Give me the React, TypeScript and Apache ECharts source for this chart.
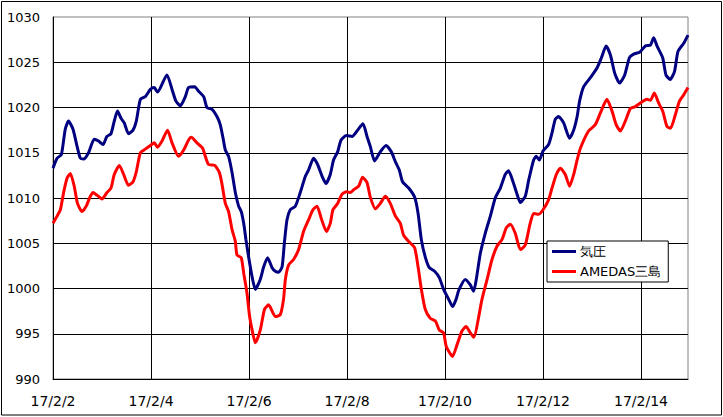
import React, { useEffect, useRef } from "react";
import * as echarts from "echarts";

// hours from 17/2/2 00:00
const pressureHours = [0, 2.0, 4.1, 6.0, 7.6, 9.8, 11.8, 13.4, 15.0, 17.4, 20.2, 22.3, 24.5, 26.4, 28.4, 30.0, 31.6, 33.3, 34.9, 37.0, 39.2, 40.8, 42.8, 45.2, 47.7, 49.6, 51.2, 55.8, 58.3, 60.2, 62.4, 64.8, 66.4, 69.4, 71.3, 73.8, 75.4, 77.9, 80.3, 81.9, 83.3, 84.4, 86.0, 87.7, 89.3, 90.9, 92.2, 93.4, 94.5, 95.8, 97.5, 99.1, 101.5, 103.2, 105.1, 107.3, 108.9, 110.5, 112.2, 113.3, 114.6, 116.2, 118.7, 121.1, 123.6, 125.2, 127.6, 129.6, 131.8, 133.7, 135.8, 137.4, 139.4, 141.1, 143.7, 146.5, 148.9, 151.8, 153.8, 155.4, 157.5, 160.3, 163.1, 165.7, 167.7, 169.6, 171.2, 174.2, 177.1, 178.8, 180.4, 182.3, 184.3, 186.9, 189.2, 191.3, 193.8, 195.7, 197.4, 198.7, 201.9, 204.4, 206.0, 207.3, 209.3, 211.7, 214.2, 216.6, 219.1, 221.5, 223.1, 225.3, 227.3, 228.9, 231.3, 233.0, 235.4, 236.7, 238.2, 240.0, 242.7, 244.4, 246.0, 247.6, 250.1, 253.0, 255.0, 256.7, 257.9, 259.9, 263.2, 266.5, 268.6, 270.9, 273.0, 275.1, 277.5, 280.0, 282.3, 284.4, 287.3, 290.1, 292.6, 294.2, 295.8, 298.6, 300.2, 302.3, 304.4, 306.1, 308.9, 311];
const pressureValues = [1013.3, 1014.4, 1014.8, 1017.6, 1018.5, 1017.6, 1015.7, 1014.4, 1014.3, 1015.0, 1016.5, 1016.3, 1015.9, 1016.8, 1017.1, 1018.5, 1019.6, 1018.8, 1018.3, 1017.1, 1017.5, 1018.5, 1020.9, 1021.2, 1022.0, 1022.2, 1021.7, 1023.6, 1022.0, 1020.7, 1020.2, 1021.2, 1022.2, 1022.3, 1021.8, 1021.2, 1020.0, 1019.8, 1019.0, 1018.1, 1016.6, 1015.3, 1014.6, 1012.8, 1010.6, 1009.1, 1008.5, 1007.2, 1005.4, 1003.5, 1001.3, 999.9, 1001.0, 1002.4, 1003.4, 1002.3, 1001.9, 1001.8, 1002.4, 1005.0, 1007.6, 1008.7, 1009.1, 1010.6, 1012.4, 1013.1, 1014.4, 1013.7, 1012.4, 1011.6, 1012.6, 1014.2, 1015.1, 1016.4, 1016.9, 1016.8, 1017.4, 1018.2, 1016.8, 1015.7, 1014.1, 1015.1, 1015.8, 1015.1, 1014.0, 1013.1, 1011.8, 1011.1, 1010.1, 1008.3, 1005.4, 1003.5, 1002.3, 1001.9, 1001.2, 999.9, 998.8, 998.0, 998.8, 999.8, 1001.0, 1000.4, 999.7, 1001.0, 1003.9, 1006.1, 1008.0, 1010.0, 1011.1, 1012.6, 1013.0, 1011.8, 1010.4, 1009.5, 1010.2, 1012.0, 1014.2, 1014.6, 1014.2, 1015.2, 1015.9, 1017.2, 1018.7, 1019.0, 1018.3, 1016.6, 1017.5, 1019.0, 1020.7, 1022.3, 1023.3, 1024.4, 1025.5, 1026.8, 1025.8, 1023.8, 1022.7, 1023.6, 1025.5, 1025.9, 1026.1, 1026.8, 1026.9, 1027.7, 1026.8, 1025.5, 1023.6, 1023.1, 1024.0, 1026.2, 1027.1, 1028.0];

const amedasHours = [0, 2.0, 3.6, 5.2, 6.9, 8.5, 10.4, 12.0, 14.2, 16.3, 17.9, 19.6, 21.6, 24.0, 26.4, 28.4, 30.0, 32.5, 34.6, 37.0, 39.2, 40.8, 42.8, 45.2, 47.7, 49.6, 51.2, 53.4, 56.1, 58.3, 61.5, 64.0, 66.4, 67.7, 70.5, 73.3, 74.6, 76.2, 79.2, 81.5, 82.8, 84.4, 86.0, 87.7, 89.3, 90.1, 92.2, 93.4, 95.0, 96.3, 97.8, 99.1, 101.5, 103.6, 105.6, 108.9, 111.3, 112.9, 113.8, 115.4, 117.8, 120.3, 122.7, 125.2, 127.3, 129.3, 131.3, 133.9, 135.8, 137.1, 139.4, 141.5, 143.7, 145.6, 147.2, 149.7, 151.6, 153.8, 155.4, 157.9, 160.3, 162.8, 165.2, 167.7, 170.1, 171.7, 174.2, 177.1, 178.8, 180.4, 182.3, 184.8, 187.3, 189.2, 191.3, 192.6, 195.7, 197.9, 200.3, 202.3, 204.4, 206.0, 210.1, 212.6, 215.0, 217.5, 219.9, 222.0, 224.0, 226.4, 228.9, 231.3, 233.4, 235.4, 237.8, 240.0, 242.7, 244.4, 246.5, 248.5, 250.9, 253.0, 255.0, 256.7, 258.3, 262.3, 265.6, 268.1, 271.3, 273.8, 275.8, 277.9, 280.3, 282.8, 285.2, 287.7, 290.9, 292.6, 294.5, 296.6, 298.6, 300.7, 302.4, 304.8, 306.8, 308.9, 311];
const amedasValues = [1007.2, 1008.0, 1008.7, 1010.6, 1012.2, 1012.7, 1011.3, 1009.4, 1008.5, 1009.1, 1010.0, 1010.6, 1010.3, 1009.9, 1010.6, 1011.1, 1012.6, 1013.6, 1012.6, 1011.4, 1011.8, 1012.9, 1015.0, 1015.4, 1015.8, 1016.1, 1015.6, 1016.3, 1017.5, 1016.1, 1014.6, 1015.3, 1016.4, 1016.7, 1016.1, 1015.5, 1014.6, 1013.7, 1013.6, 1012.8, 1011.5, 1009.4, 1008.5, 1006.5, 1005.2, 1003.7, 1003.4, 1001.7, 999.5, 996.9, 995.1, 994.0, 995.4, 997.7, 998.2, 996.9, 997.1, 998.8, 1001.0, 1002.6, 1003.2, 1004.3, 1006.3, 1007.6, 1008.7, 1009.1, 1007.8, 1006.3, 1007.2, 1008.7, 1009.4, 1010.4, 1010.7, 1010.6, 1010.9, 1011.3, 1012.3, 1011.7, 1010.1, 1008.8, 1009.4, 1010.2, 1009.4, 1008.0, 1007.2, 1005.9, 1005.2, 1004.5, 1002.4, 999.9, 997.7, 996.7, 996.4, 995.4, 995.1, 993.6, 992.5, 993.8, 995.3, 995.8, 995.1, 994.6, 998.8, 1001.0, 1003.2, 1004.7, 1005.4, 1006.7, 1007.1, 1006.1, 1004.3, 1004.8, 1006.9, 1008.3, 1008.2, 1008.7, 1009.8, 1011.1, 1012.6, 1013.3, 1012.6, 1011.3, 1012.6, 1014.2, 1015.5, 1017.4, 1018.1, 1019.4, 1020.9, 1019.6, 1018.1, 1017.4, 1018.5, 1019.9, 1020.1, 1020.5, 1020.9, 1020.8, 1021.6, 1020.5, 1019.6, 1017.9, 1017.7, 1019.2, 1020.7, 1021.4, 1022.2];

const seriesNames = ["気圧", "AMEDAS三島"];
const yMin = 990;
const yMax = 1030;
const yStep = 5;
const xStepHours = 48;
const xMaxHours = 311;
const datePrefix = "17/2/";
const firstDay = 2;

const zip = (xs: number[], ys: number[]) => xs.map((x, i) => [x, ys[i]]);

export default function App() {
  const ref = useRef<HTMLDivElement>(null);
  useEffect(() => {
    if (!ref.current) return;
    const chart = echarts.init(ref.current, null, { renderer: "svg" });
    const font = "'DejaVu Sans', sans-serif";
    chart.setOption({
      animation: false,
      backgroundColor: "#ffffff",
      textStyle: { fontFamily: font, color: "#000" },
      grid: {
        left: 53,
        top: 17,
        right: 35,
        bottom: 38,
        show: true,
        borderColor: "#808080",
        borderWidth: 1,
        outerBoundsMode: "none",
      },
      graphic: [
        {
          type: "rect",
          shape: { x: 1.5, y: 1.5, width: 720, height: 413.5 },
          style: { fill: "none", stroke: "#000", lineWidth: 1 },
          silent: true,
          z: 100,
        },
      ],
      legend: {
        show: true,
        left: 547,
        top: 241,
        orient: "vertical",
        itemWidth: 24,
        itemHeight: 3,
        itemGap: 7,
        icon: "rect",
        padding: [4, 7, 4, 5],
        backgroundColor: "#fff",
        borderColor: "#000",
        borderWidth: 1,
        textStyle: { fontFamily: font, fontSize: 13, color: "#000", padding: [0, 0, 0, -1] },
        data: seriesNames,
      },
      xAxis: {
        type: "value",
        min: 0,
        max: xMaxHours,
        interval: xStepHours,
        axisLine: { show: true, onZero: false, lineStyle: { color: "#000", width: 1 } },
        axisTick: { show: false },
        axisLabel: {
          margin: 15,
          fontSize: 14,
          fontFamily: font,
          color: "#000",
          showMaxLabel: false,
          formatter: (v: number) => (v % xStepHours === 0 ? `${datePrefix}${firstDay + v / 24}` : ""),
        },
        splitLine: { show: true, showMaxLine: false, lineStyle: { color: "#000", width: 1 } },
      },
      yAxis: {
        type: "value",
        min: yMin,
        max: yMax,
        interval: yStep,
        axisLine: { show: true, lineStyle: { color: "#000", width: 1 } },
        axisTick: { show: false },
        axisLabel: {
          margin: 13,
          fontSize: 13,
          fontFamily: font,
          color: "#000",
          formatter: (v: number) => String(v),
        },
        splitLine: { show: true, showMaxLine: false, lineStyle: { color: "#000", width: 1 } },
      },
      series: [
        {
          name: seriesNames[0],
          type: "line",
          data: zip(pressureHours, pressureValues),
          showSymbol: false,
          smooth: 0.2,
          color: "#000080",
          lineStyle: { color: "#000080", width: 3 },
          z: 3,
        },
        {
          name: seriesNames[1],
          type: "line",
          data: zip(amedasHours, amedasValues),
          showSymbol: false,
          smooth: 0.2,
          color: "#ff0000",
          lineStyle: { color: "#ff0000", width: 3 },
          z: 2,
        },
      ],
    });
    return () => chart.dispose();
  }, []);
  return (
    <div
      ref={ref}
      style={{ position: "fixed", left: 0, top: 0, width: 723, height: 417 }}
    />
  );
}
